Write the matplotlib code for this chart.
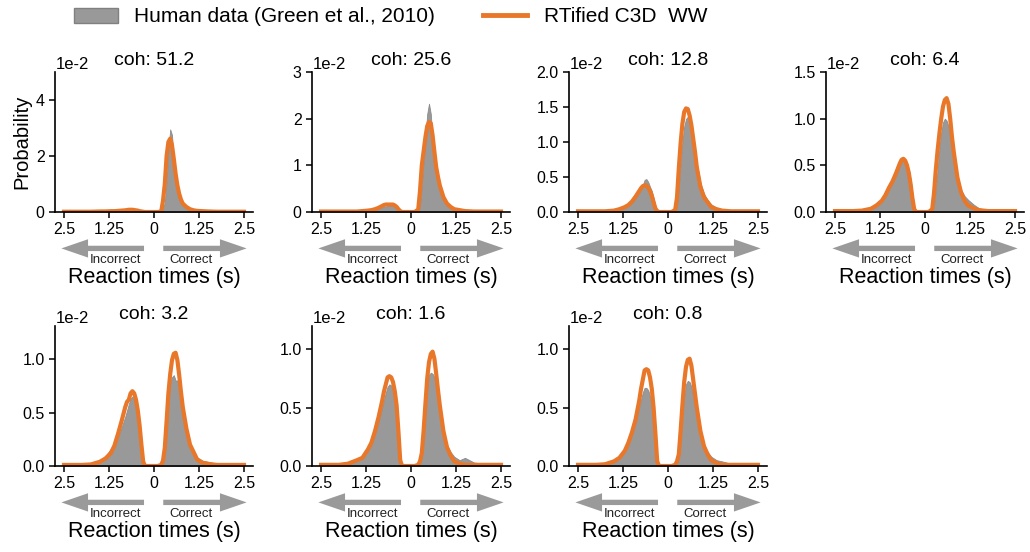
import numpy as np
import matplotlib
matplotlib.use("Agg")
import matplotlib.pyplot as plt
from matplotlib.patches import Patch
from matplotlib.lines import Line2D

plt.rcParams['font.family'] = ['Liberation Sans', 'DejaVu Sans']

# reaction time grid (s), same for correct and incorrect side
rt = [0, 0.1, 0.2, 0.25, 0.3, 0.35, 0.4, 0.45, 0.5, 0.55, 0.6, 0.65, 0.7,
      0.75, 0.8, 0.9, 1.0, 1.1, 1.2, 1.35, 1.5, 1.75, 2.0, 2.25, 2.5]

coherences = ['51.2', '25.6', '12.8', '6.4', '3.2', '1.6', '0.8']
ylims = [5.0, 3.0, 2.0, 1.5, 1.31, 1.2, 1.2]
yticks = [[0, 2, 4], [0, 1, 2, 3], [0, 0.5, 1.0, 1.5, 2.0], [0, 0.5, 1.0, 1.5],
          [0, 0.5, 1.0], [0, 0.5, 1.0], [0, 0.5, 1.0]]
ytick_labels = [['0', '2', '4'], ['0', '1', '2', '3'],
                ['0.0', '0.5', '1.0', '1.5', '2.0'], ['0.0', '0.5', '1.0', '1.5'],
                ['0.0', '0.5', '1.0'], ['0.0', '0.5', '1.0'], ['0.0', '0.5', '1.0']]
xtick_pos = [-2.5, -1.25, 0, 1.25, 2.5]
xtick_labels = ['2.5', '1.25', '0', '1.25', '2.5']

# probabilities in units of 1e-2
# coh 51.2
h51_c = [0, 0, 0, 0.1, 0.35, 1.1, 2.2, 2.95, 2.75, 1.85, 1.1, 0.7, 0.45, 0.32, 0.22, 0.12, 0.07, 0.04, 0.03, 0.02, 0.01, 0.01, 0.005, 0.005, 0]
h51_i = [0, 0, 0, 0, 0.01, 0.02, 0.03, 0.04, 0.05, 0.06, 0.06, 0.06, 0.05, 0.05, 0.04, 0.03, 0.03, 0.02, 0.02, 0.01, 0.01, 0.01, 0.005, 0, 0]
m51_c = [0, 0, 0.02, 0.4, 1.0, 2.0, 2.5, 2.62, 2.38, 1.9, 1.37, 0.95, 0.65, 0.44, 0.3, 0.18, 0.1, 0.06, 0.04, 0.03, 0.02, 0.01, 0.01, 0.01, 0.01]
m51_i = [0, 0, 0, 0, 0.01, 0.02, 0.03, 0.05, 0.06, 0.07, 0.08, 0.08, 0.08, 0.07, 0.06, 0.05, 0.04, 0.03, 0.03, 0.02, 0.02, 0.01, 0.01, 0.01, 0.01]
# coh 25.6
h25_c = [0, 0, 0, 0.15, 0.6, 1.1, 1.6, 2.1, 2.32, 2.1, 1.55, 1.1, 0.8, 0.6, 0.45, 0.27, 0.15, 0.09, 0.05, 0.03, 0.02, 0.01, 0.01, 0.005, 0]
h25_i = [0, 0, 0, 0, 0.03, 0.07, 0.11, 0.13, 0.14, 0.14, 0.14, 0.13, 0.12, 0.11, 0.1, 0.08, 0.05, 0.04, 0.03, 0.02, 0.01, 0.01, 0.005, 0, 0]
m25_c = [0, 0, 0.05, 0.45, 1.0, 1.3, 1.6, 1.84, 1.93, 1.9, 1.64, 1.29, 0.96, 0.75, 0.57, 0.32, 0.18, 0.11, 0.06, 0.04, 0.02, 0.01, 0.01, 0.01, 0.01]
m25_i = [0, 0, 0, 0, 0.02, 0.06, 0.11, 0.14, 0.16, 0.16, 0.16, 0.16, 0.16, 0.15, 0.13, 0.09, 0.06, 0.04, 0.03, 0.02, 0.01, 0.01, 0.01, 0.01, 0.01]
# coh 12.8
h12_c = [0, 0, 0, 0.1, 0.35, 0.7, 1.0, 1.22, 1.33, 1.36, 1.3, 1.18, 1.04, 0.88, 0.7, 0.42, 0.26, 0.17, 0.11, 0.06, 0.04, 0.02, 0.015, 0.01, 0.005]
h12_i = [0, 0, 0, 0, 0.02, 0.08, 0.2, 0.3, 0.36, 0.43, 0.47, 0.46, 0.38, 0.33, 0.28, 0.2, 0.13, 0.09, 0.06, 0.04, 0.02, 0.01, 0.01, 0.005, 0]
m12_c = [0, 0, 0.03, 0.21, 0.62, 0.98, 1.26, 1.43, 1.48, 1.47, 1.38, 1.24, 1.05, 0.86, 0.64, 0.36, 0.21, 0.14, 0.07, 0.04, 0.02, 0.01, 0.01, 0.01, 0.01]
m12_i = [0, 0, 0, 0, 0.01, 0.05, 0.14, 0.23, 0.3, 0.35, 0.38, 0.38, 0.37, 0.34, 0.3, 0.22, 0.15, 0.1, 0.07, 0.04, 0.02, 0.01, 0.01, 0.01, 0.01]
# coh 6.4
h6_c = [0, 0, 0, 0.08, 0.25, 0.45, 0.68, 0.85, 0.96, 1.0, 0.98, 0.92, 0.8, 0.68, 0.55, 0.36, 0.24, 0.17, 0.13, 0.08, 0.04, 0.02, 0.015, 0.01, 0.005]
h6_i = [0, 0, 0, 0, 0.05, 0.2, 0.35, 0.45, 0.5, 0.54, 0.55, 0.54, 0.5, 0.45, 0.4, 0.32, 0.25, 0.17, 0.12, 0.07, 0.04, 0.02, 0.01, 0.005, 0]
m6_c = [0, 0, 0.03, 0.2, 0.45, 0.66, 0.84, 1.0, 1.13, 1.2, 1.22, 1.16, 1.0, 0.8, 0.64, 0.37, 0.21, 0.12, 0.07, 0.04, 0.02, 0.01, 0.01, 0.01, 0.01]
m6_i = [0, 0, 0, 0, 0.03, 0.15, 0.3, 0.42, 0.5, 0.55, 0.57, 0.56, 0.52, 0.47, 0.42, 0.33, 0.26, 0.18, 0.12, 0.07, 0.035, 0.015, 0.01, 0.01, 0.01]
# coh 3.2
h3_c = [0, 0, 0, 0.03, 0.12, 0.35, 0.6, 0.78, 0.83, 0.85, 0.8, 0.8, 0.72, 0.6, 0.5, 0.33, 0.2, 0.13, 0.08, 0.05, 0.04, 0.02, 0.015, 0.01, 0.005]
h3_i = [0, 0, 0, 0, 0.06, 0.22, 0.38, 0.5, 0.58, 0.62, 0.65, 0.63, 0.58, 0.52, 0.46, 0.36, 0.27, 0.19, 0.16, 0.09, 0.05, 0.02, 0.01, 0.01, 0.005]
m3_c = [0, 0, 0.01, 0.05, 0.17, 0.42, 0.68, 0.86, 0.99, 1.05, 1.06, 0.99, 0.85, 0.69, 0.55, 0.35, 0.2, 0.13, 0.06, 0.03, 0.02, 0.01, 0.01, 0.01, 0.01]
m3_i = [0, 0, 0, 0, 0.04, 0.2, 0.38, 0.52, 0.62, 0.68, 0.7, 0.68, 0.62, 0.6, 0.55, 0.42, 0.3, 0.19, 0.12, 0.07, 0.04, 0.015, 0.01, 0.01, 0.01]
# coh 1.6
h1_c = [0, 0, 0, 0.02, 0.08, 0.28, 0.5, 0.68, 0.78, 0.8, 0.79, 0.76, 0.68, 0.58, 0.48, 0.3, 0.18, 0.12, 0.08, 0.05, 0.07, 0.03, 0.02, 0.01, 0.005]
h1_i = [0, 0, 0, 0, 0.06, 0.25, 0.45, 0.58, 0.65, 0.69, 0.7, 0.68, 0.63, 0.57, 0.5, 0.38, 0.28, 0.2, 0.14, 0.09, 0.06, 0.03, 0.015, 0.01, 0.005]
m1_c = [0, 0, 0.01, 0.04, 0.11, 0.3, 0.53, 0.75, 0.89, 0.96, 0.98, 0.92, 0.79, 0.65, 0.52, 0.3, 0.16, 0.09, 0.04, 0.02, 0.01, 0.01, 0.01, 0.01, 0.01]
m1_i = [0, 0, 0, 0, 0.05, 0.3, 0.52, 0.64, 0.72, 0.76, 0.77, 0.76, 0.7, 0.64, 0.56, 0.42, 0.3, 0.2, 0.14, 0.07, 0.05, 0.02, 0.01, 0.01, 0.01]
# coh 0.8
h0_c = [0, 0, 0, 0.02, 0.08, 0.25, 0.45, 0.6, 0.7, 0.73, 0.72, 0.68, 0.6, 0.52, 0.45, 0.3, 0.18, 0.12, 0.08, 0.05, 0.04, 0.02, 0.015, 0.01, 0.005]
h0_i = [0, 0, 0, 0, 0.05, 0.25, 0.4, 0.5, 0.6, 0.65, 0.67, 0.67, 0.63, 0.57, 0.5, 0.38, 0.27, 0.18, 0.13, 0.08, 0.05, 0.03, 0.015, 0.01, 0.005]
m0_c = [0, 0, 0.01, 0.04, 0.1, 0.3, 0.52, 0.72, 0.85, 0.91, 0.92, 0.86, 0.74, 0.62, 0.5, 0.3, 0.17, 0.1, 0.05, 0.025, 0.01, 0.01, 0.01, 0.01, 0.01]
m0_i = [0, 0, 0, 0, 0.04, 0.28, 0.5, 0.66, 0.76, 0.82, 0.83, 0.82, 0.74, 0.66, 0.56, 0.4, 0.29, 0.2, 0.13, 0.07, 0.04, 0.015, 0.01, 0.01, 0.01]

human = [(h51_c, h51_i), (h25_c, h25_i), (h12_c, h12_i), (h6_c, h6_i),
         (h3_c, h3_i), (h1_c, h1_i), (h0_c, h0_i)]
model = [(m51_c, m51_i), (m25_c, m25_i), (m12_c, m12_i), (m6_c, m6_i),
         (m3_c, m3_i), (m1_c, m1_i), (m0_c, m0_i)]

ORANGE = '#E8772A'
GRAY = '#999999'
ARROW = '#9a9a9a'

W, H = 1030, 552
fig = plt.figure(figsize=(W / 100, H / 100), dpi=100)

lefts = [55, 312, 569, 826]
bottoms = [212, 466]
aw, ah = 198, 140


def mirror(cor, inc):
    r = np.array(rt)
    x = np.concatenate([-r[::-1], r[1:]])
    y = np.concatenate([np.array(inc)[::-1], np.array(cor)[1:]])
    return x, y


for k in range(7):
    row, col = divmod(k, 4)
    ax = fig.add_axes([lefts[col] / W, 1 - bottoms[row] / H, aw / W, ah / H])

    hx, hy = mirror(*human[k])
    mx, my = mirror(*model[k])
    ax.fill_between(hx, 0, hy, facecolor=GRAY, edgecolor='#8c8c8c', lw=0.6)
    ax.plot(mx, my, color=ORANGE, lw=3.0, solid_joinstyle='round')

    ax.set_xlim(-2.75, 2.75)
    ax.set_ylim(0, ylims[k])
    ax.set_xticks(xtick_pos)
    ax.set_xticklabels(xtick_labels)
    ax.set_yticks(yticks[k])
    ax.set_yticklabels(ytick_labels[k])
    ax.tick_params(labelsize=11.5, length=4, width=1.1, direction='out')
    for s in ['top', 'right']:
        ax.spines[s].set_visible(False)
    for s in ['left', 'bottom']:
        ax.spines[s].set_linewidth(1.2)

    ax.set_title('coh: ' + coherences[k], fontsize=14, pad=5)
    ax.text(0.005, 1.0, '1e-2', transform=ax.transAxes, ha='left', va='bottom',
            fontsize=12)

    tr = ax.get_xaxis_transform()
    arrow_kw = dict(arrowstyle='simple,head_length=1.6,head_width=1.1,tail_width=0.32',
                    mutation_scale=12, color=ARROW, lw=0)
    ax.annotate('', xy=(-2.65, -0.26), xytext=(-0.2, -0.26), xycoords=tr,
                textcoords=tr, arrowprops=arrow_kw, annotation_clip=False)
    ax.annotate('', xy=(2.65, -0.26), xytext=(0.18, -0.26), xycoords=tr,
                textcoords=tr, arrowprops=arrow_kw, annotation_clip=False)
    ax.text(-1.08, -0.345, 'Incorrect', transform=tr, ha='center', va='center',
            fontsize=9.5, color='#222222')
    ax.text(1.02, -0.345, 'Correct', transform=tr, ha='center', va='center',
            fontsize=9.5, color='#222222')
    ax.text(0.5, -0.47, 'Reaction times (s)', transform=ax.transAxes,
            ha='center', va='center', fontsize=15.5)

    if k == 0:
        ax.set_ylabel('Probability', fontsize=14.5, labelpad=3)

handles = [Patch(facecolor=GRAY, edgecolor='#808080', lw=1),
           Line2D([], [], color=ORANGE, lw=3.5)]
labels = ['Human data (Green et al., 2010)', 'RTified C3D  WW']
fig.legend(handles, labels, loc='center left', bbox_to_anchor=(74 / W, 1 - 17 / H),
           ncol=2, frameon=False, fontsize=15, handlelength=2.1,
           handletextpad=0.8, columnspacing=2.3, borderpad=0, borderaxespad=0)

fig.savefig('out.png', dpi=100)
